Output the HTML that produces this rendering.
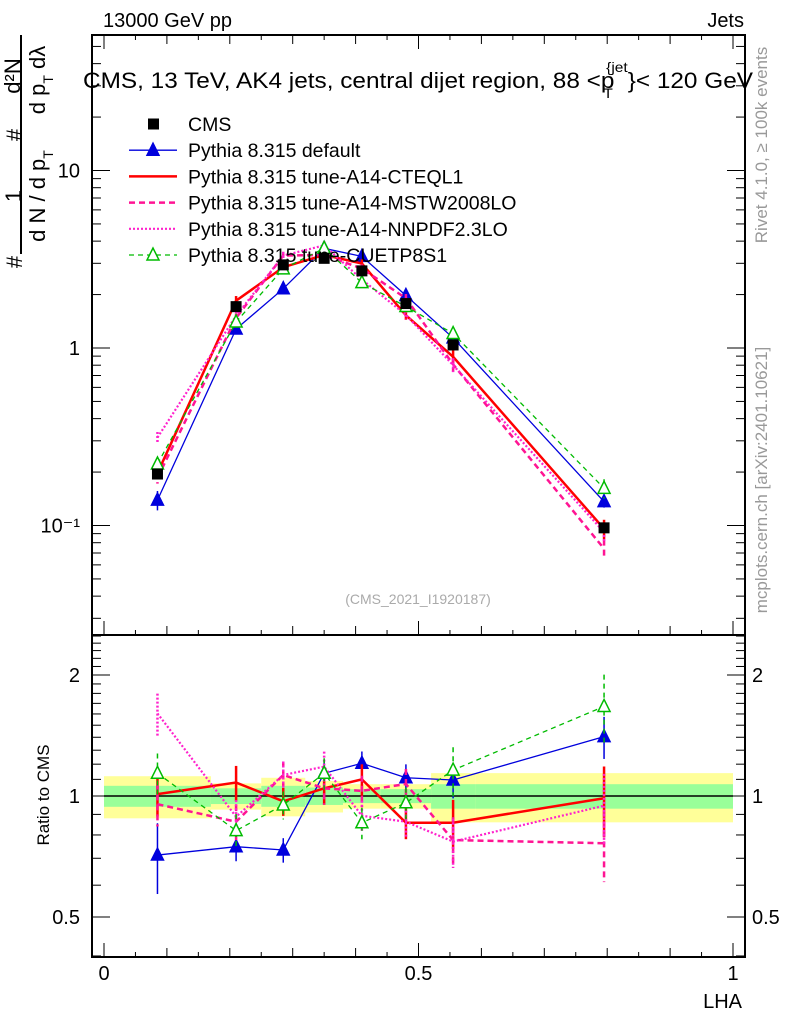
<!DOCTYPE html>
<html><head><meta charset="utf-8"><style>
body{margin:0;background:#fff;}
svg{display:block;font-family:"Liberation Sans",sans-serif;}
</style></head><body>
<svg id="chart" width="786" height="1024" viewBox="0 0 786 1024" xmlns="http://www.w3.org/2000/svg">
<text x="103" y="27" font-size="20">13000 GeV pp</text>
<text x="744" y="27" font-size="20" text-anchor="end">Jets</text>
<text x="83" y="88" font-size="22" textLength="670" lengthAdjust="spacingAndGlyphs">CMS, 13 TeV, AK4 jets, central dijet region, 88 &lt;p<tspan font-size="14" dx="-10" dy="10">T</tspan><tspan font-size="14" dx="-6" dy="-26">{jet</tspan><tspan dy="16">}&lt; 120 GeV</tspan></text>
<text transform="translate(767,145) rotate(-90)" font-size="17" fill="#999" text-anchor="middle">Rivet 4.1.0, ≥ 100k events</text>
<text transform="translate(767,480) rotate(-90)" font-size="17" fill="#999" text-anchor="middle">mcplots.cern.ch [arXiv:2401.10621]</text>
<text x="418" y="604" font-size="14" fill="#aaa" text-anchor="middle">(CMS_2021_I1920187)</text>
<g font-size="22">
<text transform="translate(22,262) rotate(-90)" text-anchor="middle">#</text>
<text transform="translate(21,196) rotate(-90)" text-anchor="middle">1</text>
<line x1="21" y1="35" x2="21" y2="254" stroke="#000" stroke-width="2"/>
<text transform="translate(45,196) rotate(-90)" text-anchor="middle">d N / d p<tspan font-size="14" dy="8">T</tspan></text>
<text transform="translate(22,135) rotate(-90)" text-anchor="middle">#</text>
<text transform="translate(20,76) rotate(-90)" text-anchor="middle">d²N</text>
<text transform="translate(45,80) rotate(-90)" text-anchor="middle">d p<tspan font-size="14" dy="8">T</tspan><tspan dy="-8">  dλ</tspan></text>
</g>
<text x="44" y="800" font-size="17" transform="rotate(-90,44,795)" text-anchor="middle">Ratio to CMS</text>
<text x="742" y="1008" font-size="20" text-anchor="end">LHA</text>
<g id="bands"></g>
<g id="axes"></g>
<g id="series"></g>
<g id="legend"></g>
</svg>
<script>
const NS="http://www.w3.org/2000/svg";
const binEdges=[0,0.17,0.25,0.32,0.38,0.44,0.52,0.59,1.0];
const lhaCenters=[0.085,0.21,0.285,0.35,0.41,0.48,0.555,0.795];
const cmsValues=[0.195,1.71,2.94,3.20,2.72,1.78,1.04,0.097];
const bandYellow=[0.12,0.075,0.11,0.09,0.07,0.07,0.14,0.14];
const bandGreen=[0.06,0.045,0.06,0.05,0.04,0.04,0.07,0.07];
const ratioDefault=[0.713,0.748,0.734,1.139,1.206,1.11,1.096,1.405];
const ratioCTEQL1=[1.011,1.08,0.97,1.045,1.10,0.858,0.858,0.987];
const ratioMSTW=[0.954,0.863,1.128,1.045,1.03,1.071,0.777,0.763];
const ratioNNPDF=[1.605,0.888,1.128,1.183,0.893,0.863,0.77,0.946];
const ratioCUETP8S1=[1.139,0.82,0.95,1.139,0.858,0.962,1.16,1.67];
const ratioErrDefault=[0.2,0.08,0.07,0.07,0.07,0.08,0.1,0.12];
const ratioErr=[0.12,0.1,0.08,0.09,0.09,0.09,0.14,0.2];
const xTickLabels=["0","0.5","1"];
const mainTickLabels=["10\u207B\u00B9","1","10"];
const ratioTickLabels=["0.5","1","2"];
const L=92,R=745,T=35,MB=635,RB=957;
const X=v=>104+v*629;
const Ym=v=>348-177.5*Math.log10(v);
const Yr=v=>796-402*Math.log10(v);
function mk(tag,attrs,parent){const e=document.createElementNS(NS,tag);for(const k in attrs)e.setAttribute(k,attrs[k]);parent.appendChild(e);return e;}
const bands=document.getElementById('bands'),axes=document.getElementById('axes'),ser=document.getElementById('series'),leg=document.getElementById('legend');
for(let i=0;i<8;i++){
 const x0=X(binEdges[i]),x1=X(binEdges[i+1]);
 let r=mk('rect',{x:x0,y:Yr(1+bandYellow[i]),width:x1-x0,height:Yr(1-bandYellow[i])-Yr(1+bandYellow[i]),fill:'#ffff99'},bands);
 
 
 r=mk('rect',{x:x0,y:Yr(1+bandGreen[i]),width:x1-x0,height:Yr(1-bandGreen[i])-Yr(1+bandGreen[i]),fill:'#99ff99'},bands);
 
 
}
mk('line',{x1:X(0),x2:X(1),y1:Yr(1),y2:Yr(1),stroke:'#000','stroke-width':1.5},bands);
mk('rect',{x:L,y:T,width:R-L,height:MB-T,fill:'none',stroke:'#000','stroke-width':2},axes);
mk('rect',{x:L,y:MB,width:R-L,height:RB-MB,fill:'none',stroke:'#000','stroke-width':2},axes);
for(let k=0;k<=20;k++){const v=k*0.05,x=X(v),len=k%10==0?14:(k%2==0?9:5);
 for(const yb of [MB,RB]){mk('line',{x1:x,x2:x,y1:yb,y2:yb-len,stroke:'#000'},axes);}
 mk('line',{x1:x,x2:x,y1:T,y2:T+len,stroke:'#000'},axes);}
[0,0.5,1].forEach((v,i)=>{const t=mk('text',{x:X(v),y:980,'font-size':20,'text-anchor':'middle'},axes);t.textContent=xTickLabels[i];

});
for(let d=-2;d<=1;d++)for(let m=1;m<=9;m++){const v=m*Math.pow(10,d),y=Ym(v);if(y<T||y>MB)continue;const len=m==1?18:9;
 mk('line',{x1:L,x2:L+len,y1:y,y2:y,stroke:'#000'},axes);mk('line',{x1:R,x2:R-len,y1:y,y2:y,stroke:'#000'},axes);}
[0.1,1,10].forEach((v,i)=>{const t=mk('text',{x:80,y:Ym(v)+7,'font-size':20,'text-anchor':'end'},axes);t.textContent=mainTickLabels[i];

});
for(let k=4;k<=25;k++){const v=k/10,y=Yr(v);if(y<MB||y>RB)continue;const len=(k==5||k==10||k==20)?18:9;
 mk('line',{x1:L,x2:L+len,y1:y,y2:y,stroke:'#000'},axes);mk('line',{x1:R,x2:R-len,y1:y,y2:y,stroke:'#000'},axes);}
[0.5,1,2].forEach((v,i)=>{for(const [x,a] of [[80,'end'],[752,'start']]){const t=mk('text',{x:x,y:Yr(v)+7,'font-size':20,'text-anchor':a},axes);t.textContent=ratioTickLabels[i];

}});
const models=[
 {name:'default',r:ratioDefault,e:ratioErrDefault,c:'#0000dd',w:1.3,dash:'',mk:'tri'},
 {name:'cteql1',r:ratioCTEQL1,e:ratioErr,c:'#ff0000',w:2.5,dash:'',mk:''},
 {name:'mstw2008lo',r:ratioMSTW,e:ratioErr,c:'#ff1493',w:2.5,dash:'6,4',mk:''},
 {name:'nnpdf23lo',r:ratioNNPDF,e:ratioErr,c:'#ff22cc',w:2.2,dash:'2,2',mk:''},
 {name:'cuetp8s1',r:ratioCUETP8S1,e:ratioErr,c:'#00bb00',w:1.3,dash:'5,4',mk:'otri'}];
function tri(g,x,y,c,open){return mk('polygon',{points:`${x},${y-7} ${x-6},${y+5} ${x+6},${y+5}`,fill:open?'#fff':c,stroke:c,'stroke-width':1.5},g);}
models.forEach(m=>{
 const g=mk('g',{},ser);
 
 
 for(const [Y,isR] of [[Ym,false],[Yr,true]]){
  const pts=lhaCenters.map((x,i)=>{const v=isR?m.r[i]:m.r[i]*cmsValues[i];return [X(x),Y(v),v];});
  mk('polyline',{points:pts.map(p=>p[0]+','+p[1]).join(' '),fill:'none',stroke:m.c,'stroke-width':m.w,'stroke-dasharray':m.dash},g);
  pts.forEach((p,i)=>{const v=p[2],e=m.e[i]*v/(isR?1:1.6);
   mk('line',{x1:p[0],x2:p[0],y1:Y(v+e),y2:Y(Math.max(v-e,0.01)),stroke:m.c,'stroke-width':m.w>2?2.5:1.5,'stroke-dasharray':m.dash},g);
   if(m.mk)tri(g,p[0],p[1],m.c,m.mk=='otri');});
 }
});
const cg=mk('g',{},ser);


lhaCenters.forEach((x,i)=>{const y=Ym(cmsValues[i]);mk('rect',{x:X(x)-5.5,y:y-5.5,width:11,height:11,fill:'#000'},cg);});
const legItems=[['CMS','#000','','sq',2],['Pythia 8.315 default','#0000dd','','tri',1.3],['Pythia 8.315 tune-A14-CTEQL1','#ff0000','','',2.5],['Pythia 8.315 tune-A14-MSTW2008LO','#ff1493','6,4','',2.5],['Pythia 8.315 tune-A14-NNPDF2.3LO','#ff22cc','2,2','',2.2],['Pythia 8.315 tune-CUETP8S1','#00bb00','5,4','otri',1.3]];
legItems.forEach((it,i)=>{const y=124+i*26.2;const g=mk('g',{},leg);
 
 
 if(it[3]=='sq')mk('rect',{x:148,y:y-5.5,width:11,height:11,fill:'#000'},g);
 else{mk('line',{x1:129,x2:177,y1:y,y2:y,stroke:it[1],'stroke-width':it[4],'stroke-dasharray':it[2]},g);if(it[3])tri(g,153,y,it[1],it[3]=='otri');}
 const t=mk('text',{x:188,y:y+7,'font-size':19.5},g);t.textContent=it[0];});
</script>
</body></html>
